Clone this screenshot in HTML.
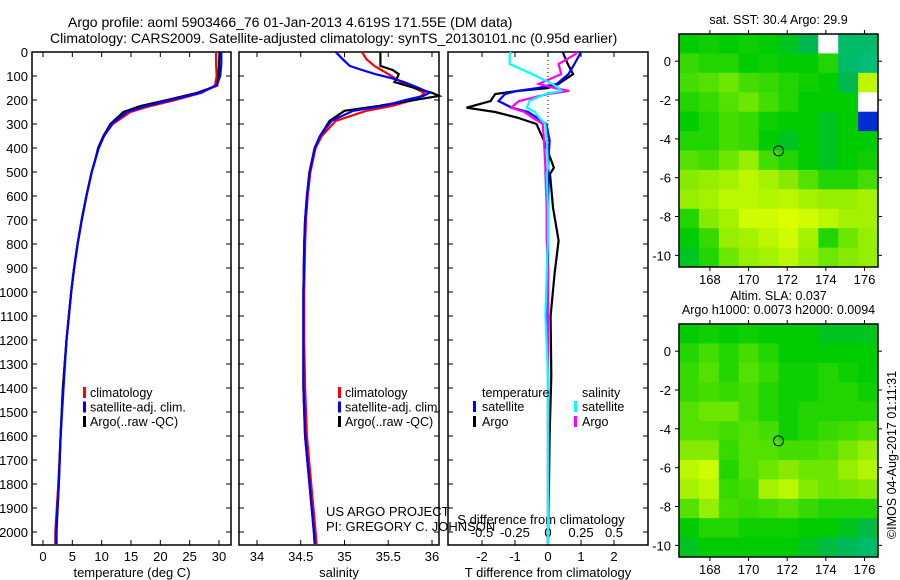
<!DOCTYPE html>
<html><head><meta charset="utf-8"><style>
body{margin:0;background:#fff;}
svg{display:block;font-family:"Liberation Sans",sans-serif;}
text{fill:#000;}
</style></head><body>
<svg id="chart" width="900" height="580" viewBox="0 0 900 580" xmlns="http://www.w3.org/2000/svg">
<text x="68" y="27" font-size="14">Argo profile: aoml 5903466_76 01-Jan-2013 4.619S 171.55E (DM data)</text>
<text x="50" y="43" font-size="14">Climatology: CARS2009. Satellite-adjusted climatology: synTS_20130101.nc (0.95d earlier)</text>
<g id="g"></g>
</svg>
<script>
// ---- data ----
const tDepth=[0,50,100,140,170,200,225,250,300,350,400,450,500,600,700,800,900,1000,1200,1400,1600,1800,2000,2050];
const tArgo=[30.1,30.0,29.9,29.7,26.3,21.2,16.6,13.7,11.5,10.3,9.4,8.9,8.3,7.4,6.6,5.9,5.3,4.8,4.0,3.4,3.0,2.7,2.3,2.3];
const tClim=[29.5,29.5,29.6,29.3,27.0,22.5,18.3,14.9,11.9,10.4,9.5,8.9,8.3,7.4,6.6,5.9,5.3,4.8,4.0,3.4,3.0,2.6,2.1,2.1];
const tSat=[30.4,30.4,30.2,29.6,26.8,21.8,17.5,14.3,11.7,10.4,9.5,8.9,8.3,7.4,6.6,5.9,5.3,4.8,4.0,3.5,3.0,2.7,2.2,2.2];
const sDepth=[0,30,58,75,92,110,125,150,170,183,200,224,245,287,350,400,500,600,700,800,1000,1200,1400,1600,1800,2000,2050];
const sArgo=[35.41,35.41,35.41,35.55,35.62,35.6,35.57,35.8,36.0,36.08,35.8,35.4,35.0,34.83,34.72,34.66,34.6,34.57,34.55,34.54,34.53,34.53,34.53,34.55,34.6,34.65,34.66];
const sClim=[35.2,35.25,35.34,35.42,35.5,35.58,35.65,35.8,35.91,35.88,35.78,35.55,35.25,34.9,34.74,34.67,34.61,34.58,34.56,34.55,34.54,34.54,34.55,34.57,34.62,34.67,34.68];
const sSat=[34.9,34.98,35.06,35.2,35.35,35.55,35.68,35.85,35.97,35.9,35.7,35.45,35.1,34.85,34.72,34.66,34.6,34.57,34.55,34.54,34.53,34.53,34.53,34.55,34.6,34.65,34.66];
const dDepth=[0,8,50,92,133,150,162,175,204,232,250,273,300,370,482,508,648,786,923,1100,1350,1600,1800,2000,2050];
const dTArgo=[0.45,0.47,0.6,0.76,0.32,0.0,-0.9,-1.6,-1.74,-2.47,-1.6,-0.94,-0.35,-0.12,0.18,0.06,0.15,0.32,0.2,0.08,0.1,0.05,0.03,0.0,0.0];
const dTSat=[1.0,0.97,0.8,0.62,0.27,-0.3,-0.94,-1.3,-1.5,-1.09,-0.6,-0.35,-0.05,0.05,0.0,0.02,0.0,0.0,0.0,-0.03,0.0,0.0,0.0,0.0,0.0];
const dSArgo=[0.22,0.21,0.08,0.1,-0.07,0.05,0.16,0.0,-0.22,-0.28,-0.18,-0.12,-0.04,-0.03,-0.02,-0.02,-0.01,-0.01,0.0,0.0,0.0,0.0,0.0,0.0,0.0];
const dSSat=[-0.28,-0.29,-0.29,-0.12,0.03,0.08,0.1,-0.02,-0.14,-0.16,-0.1,-0.07,-0.02,-0.01,0.0,-0.01,0.0,0.0,-0.01,-0.02,0.0,0.0,0.0,0.0,0.0];
const depthTicks=[0,100,200,300,400,500,600,700,800,900,1000,1100,1200,1300,1400,1500,1600,1700,1800,1900,2000];
const tTicks=[0,5,10,15,20,25,30];
const sTicks=[34,34.5,35,35.5,36];
const dTTicks=[-2,-1,0,1,2];
const dSTicks=[-0.5,-0.25,0,0.25,0.5];
const lonTicks=[168,170,172,174,176];
const latTicks=[0,-2,-4,-6,-8,-10];
const floatLon=171.55, floatLat=-4.62;
const sstGrid=[
[0.5,0.52,0.5,0.52,0.5,0.48,0.45,null,0.42,0.42],
[0.58,0.55,0.55,0.5,0.52,0.5,0.5,0.55,0.42,0.4],
[0.6,0.62,0.65,0.6,0.58,0.55,0.52,0.5,0.45,0.75],
[0.55,0.58,0.62,0.65,0.6,0.55,0.5,0.5,0.5,null],
[0.5,0.55,0.6,0.58,0.52,0.5,0.5,0.48,0.5,0.1],
[0.55,0.55,0.6,0.58,0.5,0.48,0.5,0.48,0.5,0.5],
[0.62,0.6,0.65,0.7,0.6,0.55,0.5,0.48,0.5,0.52],
[0.68,0.7,0.72,0.75,0.72,0.68,0.62,0.55,0.55,0.6],
[0.7,0.72,0.75,0.75,0.74,0.75,0.72,0.7,0.7,0.72],
[0.55,0.68,0.72,0.78,0.78,0.8,0.78,0.75,0.72,0.72],
[0.5,0.58,0.7,0.72,0.75,0.78,0.72,0.55,0.65,0.7],
[0.48,0.55,0.65,0.7,0.72,0.75,0.7,0.65,0.68,0.7]];
const slaGrid=[
[0.5,0.52,0.5,0.52,0.5,0.5,0.5,0.48,0.48,0.48],
[0.55,0.6,0.55,0.6,0.55,0.5,0.5,0.5,0.5,0.5],
[0.58,0.62,0.55,0.62,0.58,0.52,0.52,0.55,0.52,0.5],
[0.58,0.6,0.58,0.6,0.55,0.52,0.52,0.55,0.55,0.52],
[0.62,0.65,0.65,0.6,0.55,0.52,0.55,0.55,0.55,0.55],
[0.62,0.62,0.6,0.62,0.6,0.52,0.55,0.58,0.6,0.62],
[0.68,0.68,0.58,0.62,0.62,0.6,0.6,0.62,0.66,0.7],
[0.75,0.78,0.55,0.62,0.65,0.68,0.65,0.65,0.7,0.74],
[0.72,0.75,0.58,0.6,0.72,0.75,0.68,0.65,0.66,0.68],
[0.62,0.7,0.6,0.58,0.6,0.62,0.58,0.55,0.55,0.55],
[0.5,0.55,0.55,0.52,0.52,0.52,0.5,0.5,0.48,0.46],
[0.48,0.5,0.5,0.5,0.5,0.5,0.48,0.46,0.44,0.42]];

// ---- drawing ----
const NS="http://www.w3.org/2000/svg";
const G=document.getElementById('g');
function mk(tag,attrs,parent){const e=document.createElementNS(NS,tag);for(const k in attrs)e.setAttribute(k,attrs[k]);(parent||G).appendChild(e);return e;}
const yTop=52, yPer=0.24;
const yD=d=>yTop+d*yPer;
const panelBottom=545;
function lin(v0,p0,v1,p1){return v=>p0+(v-v0)*(p1-p0)/(v1-v0);}
const xT=lin(0,43,30,219), xS=lin(34,257,36,432), xDT=lin(0,548,1,581), xDS=lin(0,548,0.5,614);

function panel(name,x0,x1){
  const r=mk('rect',{x:x0,y:yTop,width:x1-x0,height:panelBottom-yTop,fill:'none',stroke:'#000','stroke-width':1.5});
  
  
  depthTicks.forEach(d=>{
    const l=mk('line',{x1:x0,x2:x0+5,y1:yD(d),y2:yD(d),stroke:'#000'});
    
    
    const l2=mk('line',{x1:x1-5,x2:x1,y1:yD(d),y2:yD(d),stroke:'#000'});
    
    
  });
}
function xticks(ticks,sc,labelY,fmt,doLabels){
  ticks.forEach(v=>{
    const x=sc(v);
    const a=mk('line',{x1:x,x2:x,y1:yTop,y2:yTop+5,stroke:'#000'});
    
    
    const b=mk('line',{x1:x,x2:x,y1:panelBottom-5,y2:panelBottom,stroke:'#000'});
    
    
    if(doLabels){
      const t=mk('text',{x:x,y:labelY,'font-size':13,'text-anchor':'middle'});
      
      
      t.textContent=fmt?fmt(v):v;
    }
  });
}
function profile(name,xs,ds,sc,color,w){
  const pts=ds.map((d,i)=>sc(xs[i]).toFixed(1)+','+yD(d).toFixed(1)).join(' ');
  const p=mk('polyline',{points:pts,fill:'none',stroke:color,'stroke-width':w||2.2,'stroke-linejoin':'miter'});
  
  
}
function label(name,txt,x,y,size,anchor){
  const t=mk('text',{x:x,y:y,'font-size':size||12.5,'text-anchor':anchor||'start'});
  
  
  t.textContent=txt;return t;
}
function legBar(name,x,y,color){
  const r=mk('rect',{x:x,y:y-10,width:3,height:11,fill:color});
  
  
}

// panel 1
panel('temperature-panel',32,231);
depthTicks.forEach(d=>{label('depth-label',String(d),28,yD(d)+5,13,'end');});
xticks(tTicks,xT,561,null,true);
label('x-axis-title-temperature','temperature (deg C)',132,577,13,'middle');
profile('temp-climatology',tClim,tDepth,xT,'#ff0000');
profile('temp-argo',tArgo,tDepth,xT,'#000');
profile('temp-satellite',tSat,tDepth,xT,'#0000ff');
[['climatology','#ff0000'],['satellite-adj. clim.','#0000ff'],['Argo(..raw -QC)','#000']].forEach((e,i)=>{
  legBar('legend-marker',83,397+i*14.5,e[1]);label('legend-entry',e[0],90,397+i*14.5);
});

// panel 2
panel('salinity-panel',239,439);
xticks(sTicks,xS,561,null,true);
label('x-axis-title-salinity','salinity',339,577,13,'middle');
profile('sal-climatology',sClim,sDepth,xS,'#ff0000');
profile('sal-argo',sArgo,sDepth,xS,'#000');
profile('sal-satellite',sSat,sDepth,xS,'#0000ff');
[['climatology','#ff0000'],['satellite-adj. clim.','#0000ff'],['Argo(..raw -QC)','#000']].forEach((e,i)=>{
  legBar('legend-marker',338,397+i*14.5,e[1]);label('legend-entry',e[0],345,397+i*14.5);
});
label('project-label','US ARGO PROJECT',326,516,13);
label('pi-label','PI: GREGORY C. JOHNSON',326,531,13);

// panel 3
panel('difference-panel',448,648);
xticks(dTTicks,xDT,561,null,true);
dSTicks.forEach(v=>{label('s-diff-tick-label',String(v),xDS(v),537,13,'middle');});
label('s-diff-title','S difference from climatology',541,524,13,'middle');
label('x-axis-title-t-diff','T difference from climatology',548,577,13,'middle');
const z=mk('line',{x1:548,x2:548,y1:yTop,y2:panelBottom,stroke:'#000','stroke-dasharray':'1,3'});


profile('tdiff-argo',dTArgo,dDepth,xDT,'#000');
profile('tdiff-satellite',dTSat,dDepth,xDT,'#0000ff');
profile('sdiff-argo',dSArgo,dDepth,xDS,'#ff00ff');
profile('sdiff-satellite',dSSat,dDepth,xDS,'#00ffff');
label('legend-title-temperature','temperature',482,397);
label('legend-title-salinity','salinity',582,397);
legBar('legend-marker',473,411,'#0000ff');label('legend-entry','satellite',482,411);
legBar('legend-marker',473,426,'#000');label('legend-entry','Argo',482,426);
legBar('legend-marker',574,411,'#00ffff');label('legend-entry','satellite',582,411);
legBar('legend-marker',574,426,'#ff00ff');label('legend-entry','Argo',582,426);

// maps
const stops=[[0,[0,0,128]],[0.15,[0,64,255]],[0.3,[0,200,200]],[0.45,[0,184,80]],[0.5,[0,204,0]],[0.6,[68,221,0]],[0.7,[150,238,0]],[0.8,[221,255,0]]];
function cmap(v){
  if(v<=stops[0][0])return 'rgb('+stops[0][1]+')';
  for(let i=1;i<stops.length;i++){if(v<=stops[i][0]){const a=stops[i-1],b=stops[i];const t=(v-a[0])/(b[0]-a[0]);return 'rgb('+a[1].map((c,k)=>Math.round(c+(b[1][k]-c)*t)).join(',')+')';}}
  return 'rgb('+stops[stops.length-1][1]+')';
}
function map(name,grid,y0,y1,title){
  const x0=679,x1=878;
  const lonMin=166.4,lonMax=176.7,latMax=1.4,latMin=-10.6;
  const xL=lin(lonMin,x0,lonMax,x1), yL=lin(latMax,y0,latMin,y1);
  const g=mk('g',{});
  
  
  const nr=grid.length,nc=grid[0].length;
  const cw=(x1-x0)/nc,ch=(y1-y0)/nr;
  grid.forEach((row,r)=>row.forEach((v,c)=>{
    const cell=mk('rect',{x:(x0+c*cw).toFixed(1),y:(y0+r*ch).toFixed(1),width:(cw+0.5).toFixed(1),height:(ch+0.5).toFixed(1),fill:v===null?'#fff':cmap(v)},g);
    
    
  }));
  const fr=mk('rect',{x:x0,y:y0,width:x1-x0,height:y1-y0,fill:'none',stroke:'#000','stroke-width':1.5},g);
  
  
  lonTicks.forEach(v=>{
    const x=xL(v);
    const a=mk('line',{x1:x,x2:x,y1:y0-4,y2:y0,stroke:'#000'},g);
    
    
    const b=mk('line',{x1:x,x2:x,y1:y1,y2:y1+4,stroke:'#000'},g);
    
    
    label('lon-label',String(v),x,y1+17,13,'middle');
  });
  latTicks.forEach(v=>{
    const y=yL(v);
    const a=mk('line',{x1:x0-4,x2:x0,y1:y,y2:y,stroke:'#000'},g);
    
    
    const b=mk('line',{x1:x1,x2:x1+4,y1:y,y2:y,stroke:'#000'},g);
    
    
    label('lat-label',String(v),x0-8,y+5,13,'end');
  });
  const m=mk('circle',{cx:xL(floatLon),cy:yL(floatLat),r:5,fill:'none',stroke:'#000','stroke-width':1},g);
  
  
  title.forEach((t,i)=>label('map-title',t,(x0+x1)/2,y0-(title.length-i)*14+4,12.5,'middle'));
}
map('sst-map',sstGrid,34,267,['sat. SST: 30.4  Argo: 29.9']);
map('sla-map',slaGrid,324,557,['Altim. SLA: 0.037','Argo h1000: 0.0073 h2000: 0.0094']);
const ts=label('timestamp','©IMOS 04-Aug-2017 01:11:31',0,0,12.5,'middle');
ts.setAttribute('transform','translate(896,455) rotate(-90)');
</script>
</body></html>
